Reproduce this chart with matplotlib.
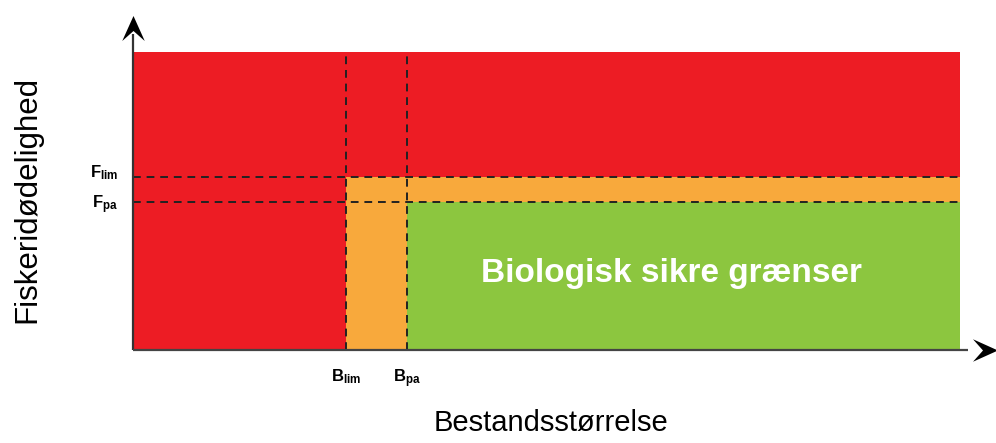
import matplotlib.pyplot as plt
from matplotlib.patches import Rectangle
from matplotlib.path import Path

plt.rcParams['font.family'] = ['Liberation Sans', 'DejaVu Sans']
plt.rcParams['mathtext.fontset'] = 'custom'
plt.rcParams['mathtext.rm'] = 'Liberation Sans'
plt.rcParams['mathtext.bf'] = 'Liberation Sans:bold'

# reference points (arbitrary units, axes run 0..100)
b_lim, b_pa = 25.8, 33.1
f_pa, f_lim = 49.7, 58.0
x_max, y_max = 100, 100

red = '#ED1C24'
orange = '#F8A93C'
green = '#8CC63F'

fig = plt.figure(figsize=(9.96, 4.43), dpi=100)
ax = fig.add_axes([0.1335, 0.21, 0.830, 0.6727])
ax.set_xlim(0, x_max)
ax.set_ylim(0, y_max)
ax.axis('off')

# zones
ax.add_patch(Rectangle((0, 0), x_max, y_max, color=red, lw=0))
ax.add_patch(Rectangle((b_lim, 0), x_max - b_lim, f_lim, color=orange, lw=0))
ax.add_patch(Rectangle((b_pa, 0), x_max - b_pa, f_pa, color=green, lw=0))

# reference lines
for b in [b_lim, b_pa]:
    ax.plot([b, b], [0, y_max], color='#222222', lw=1.4, ls=(0, (4, 3)))
for f in [f_lim, f_pa]:
    ax.plot([0, x_max], [f, f], color='#222222', lw=1.4, ls=(0, (4, 3)))

# axis lines with stealth arrow heads
head_up = Path([(0, 0.5), (0.45, -0.5), (0, -0.1), (-0.45, -0.5), (0, 0.5)],
               [1, 2, 2, 2, 79])
head_right = Path([(0.5, 0), (-0.5, 0.45), (-0.1, 0), (-0.5, -0.45), (0.5, 0)],
                  [1, 2, 2, 2, 79])
ax.plot([0, 0], [0, 106], color='#333333', lw=1.6, clip_on=False,
        solid_capstyle='butt')
ax.plot([0, 101], [0, 0], color='#444444', lw=1.6, clip_on=False,
        solid_capstyle='butt')
ax.plot([0], [108.2], marker=head_up, ms=18, color='black', clip_on=False, mew=0)
ax.plot([103.1], [0], marker=head_right, ms=18, color='black', clip_on=False, mew=0)

# tick labels
ax.text(-1.8, f_lim, r'$\mathbf{F_{lim}}$', ha='right', va='baseline', fontsize=12)
ax.text(-1.8, f_pa - 2.0, r'$\mathbf{F_{pa}}$', ha='right', va='baseline', fontsize=12)
ax.text(b_lim, -5.7, r'$\mathbf{B_{lim}}$', ha='center', va='top', fontsize=12)
ax.text(b_pa, -5.7, r'$\mathbf{B_{pa}}$', ha='center', va='top', fontsize=12)

ax.text(65.1, 25.5, 'Biologisk sikre grænser', color='white',
        fontsize=24, fontweight='bold', ha='center', va='center')

fig.text(0.553, 0.045, 'Bestandsstørrelse', ha='center', va='center', fontsize=21)
fig.text(0.027, 0.55, 'Fiskeridødelighed', ha='center', va='center', fontsize=22.5,
         rotation=90)

fig.savefig('out.png', dpi=100)
